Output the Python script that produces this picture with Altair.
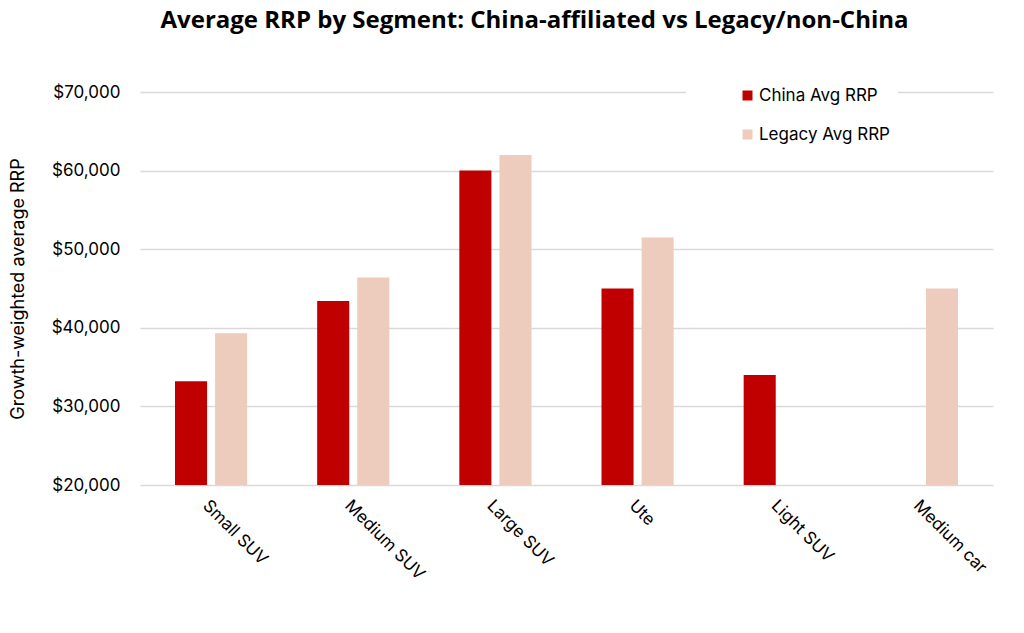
import altair as alt
import pandas as pd

# Average recommended retail price by segment for the two maker groups
segments = ["Small SUV", "Medium SUV", "Large SUV", "Ute", "Light SUV", "Medium car"]
china_avg = [33200, 43400, 60000, 45000, 34000, None]
legacy_avg = [39300, 46400, 62000, 51500, None, 45000]
series_names = ["China Avg RRP", "Legacy Avg RRP"]
series_colors = ["#C00000", "#EDCBBD"]
y_ticks = [20000, 30000, 40000, 50000, 60000, 70000]

rows = []
for seg, c, l in zip(segments, china_avg, legacy_avg):
    for name, v in zip(series_names, (c, l)):
        if v is not None:
            rows.append({"Segment": seg, "Series": name, "RRP": v})
df = pd.DataFrame(rows)

FONT = "Inter"

bars = alt.Chart(df).mark_bar().encode(
    x=alt.X(
        "Segment:N",
        sort=segments,
        scale=alt.Scale(paddingInner=0.45, paddingOuter=0.225),
        axis=alt.Axis(
            title=None,
            labelAngle=45,
            labelAlign="left",
            labelBaseline="top",
            labelFontSize=17,
            labelColor="#000000",
            labelPadding=12,
            ticks=False,
            domain=False,
        ),
    ),
    xOffset=alt.XOffset(
        "Series:N",
        sort=series_names,
        scale=alt.Scale(paddingInner=0.2, paddingOuter=0.075),
    ),
    y=alt.Y(
        "RRP:Q",
        scale=alt.Scale(domain=[20000, 70000], zero=False, nice=False),
        axis=alt.Axis(
            title="Growth-weighted average RRP",
            titleFontSize=18,
            titleFontWeight="normal",
            titleColor="#000000",
            titlePadding=24,
            values=y_ticks,
            format="$,.0f",
            labelFontSize=17,
            labelColor="#000000",
            labelPadding=20,
            ticks=False,
            domain=False,
            gridColor="#D9D9D9",
            gridWidth=1.5,
        ),
    ),
    y2=alt.datum(20000),
    color=alt.Color(
        "Series:N",
        sort=series_names,
        scale=alt.Scale(domain=series_names, range=series_colors),
        legend=alt.Legend(
            title=None,
            orient="none",
            legendX=546,
            legendY=-13,
            symbolType="square",
            symbolSize=100,
            symbolOffset=45,
            labelOffset=3,
            labelFontSize=17,
            labelColor="#000000",
            labelExpr="datum.label + '\u00a0\u00a0\u00a0\u00a0\u00a0\u00a0\u00a0\u00a0\u00a0\u00a0'",
            rowPadding=21,
            padding=8,
            fillColor="#FFFFFF",
        ),
    ),
)

chart = bars.properties(
    width=853,
    height=393,
    title=alt.TitleParams(
        "Average RRP by Segment: China-affiliated vs Legacy/non-China",
        font="Open Sans",
        fontSize=24,
        fontWeight="bold",
        color="#000000",
        anchor="middle",
        frame="group",
        dx=-32,
        offset=46,
    ),
    padding={"left": 140, "top": 92, "right": 31, "bottom": 148},
    autosize=alt.AutoSizeParams(type="none"),
).configure(
    font=FONT,
    background="#FFFFFF",
).configure_view(
    stroke=None,
)

chart.save("out.html", embed_options={"renderer": "svg", "actions": False})
